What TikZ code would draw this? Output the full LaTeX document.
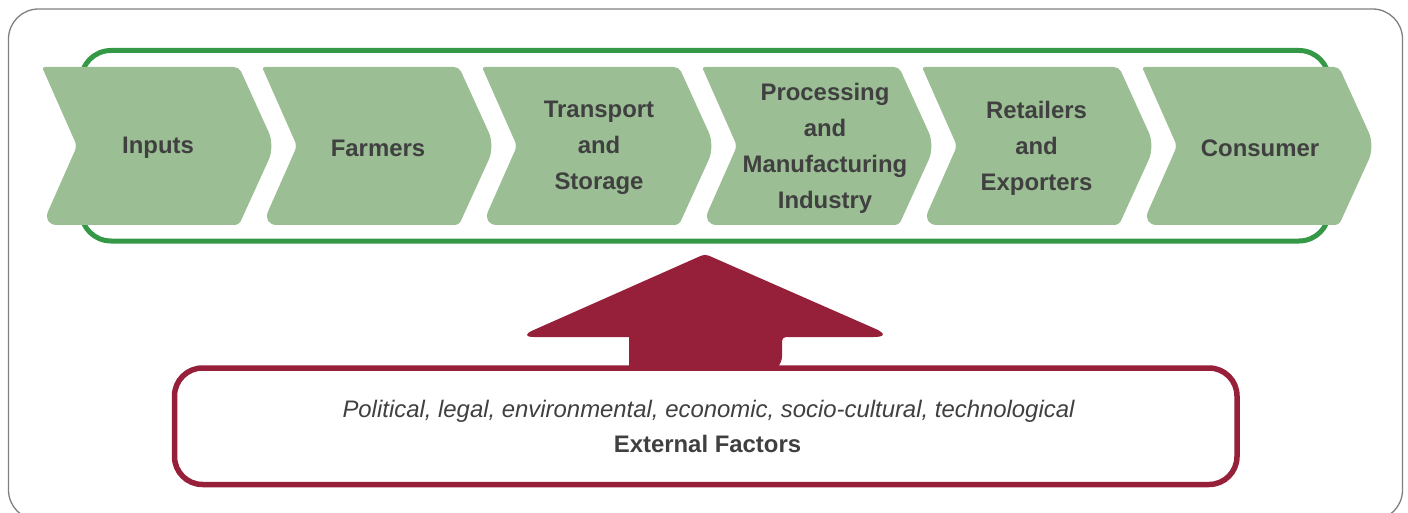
\documentclass[tikz,border=0pt]{standalone}
\usepackage{fontspec}
\setmainfont{Liberation Sans}
\definecolor{chevfill}{RGB}{155,190,148}
\definecolor{chaingreen}{RGB}{52,152,70}
\definecolor{wine}{RGB}{150,31,58}
\definecolor{textgray}{RGB}{64,64,64}
\definecolor{framegray}{RGB}{128,128,128}

\begin{document}
\begin{tikzpicture}[x=1pt,y=-1pt,
  stagefill/.style={fill=chevfill},
  stagelabel/.style={font=\fontsize{23.9}{36}\selectfont\bfseries, text=textgray, align=center, inner sep=0pt},
  chainbox/.style={draw=chaingreen, line width=5pt, rounded corners=30pt, inner sep=0pt},
  factorbox/.style={draw=wine, line width=5.5pt, rounded corners=28pt, inner sep=0pt},
  factortext/.style={font=\fontsize{23.9}{35}\selectfont, text=textgray, inner sep=0pt, anchor=base}]
\useasboundingbox (0,0) rectangle (1408,513);
\clip (0,0) rectangle (1408,513);

% outer frame
\draw[framegray, line width=1.3pt, rounded corners=30pt] (8.5,9) rectangle (1402.5,520);

% green frame around the value chain
\node[chainbox, minimum width=1248pt, minimum height=190.5pt] (chain) at (705,145.75) {};

% chevron stages: index / label centre x / label
\foreach \i/\cx/\txt in {0/158/Inputs, 1/378/Farmers, 2/599/{Transport\\and\\Storage},
    3/825/{Processing\\and\\Manufacturing\\Industry}, 4/1036.5/{Retailers\\and\\Exporters}, 5/1260/Consumer} {
  \pgfmathsetmacro\xo{42+220*\i}
  \fill[stagefill] [rounded corners=5pt] (\xo,67) -- (\xo+197,67)
    [rounded corners=15pt] -- (\xo+233,146)
    [rounded corners=4pt] -- (\xo+197,225)
    [rounded corners=15pt] -- (\xo,225)
    [rounded corners=5pt] -- (\xo+35,146)
    [rounded corners=3pt] -- cycle;
  \node[stagelabel] (stage\i) at (\cx,148) {\txt};
}

% upward arrow from the external factors
\fill[wine] (629,372) -- (629,337)
  [rounded corners=16pt] -- (518,337)
  [rounded corners=4pt] -- (705,254)
  [rounded corners=20pt] -- (894,337)
  [rounded corners=4pt] -- (782,337)
  [rounded corners=16pt] -- (782,372)
  [sharp corners] -- cycle;

% external factors box
\node[factorbox, fill=white, minimum width=1062.5pt, minimum height=116.5pt] (factors) at (705.75,426.25) {};
\node[factortext, font=\fontsize{23.9}{35}\selectfont\itshape] (factorlist) at (708.5,417.6)
  {Political, legal, environmental, economic, socio-cultural, technological};
\node[factortext, font=\fontsize{23.9}{35}\selectfont\bfseries] (factortitle) at (707.5,452.6)
  {External Factors};
\end{tikzpicture}
\end{document}
